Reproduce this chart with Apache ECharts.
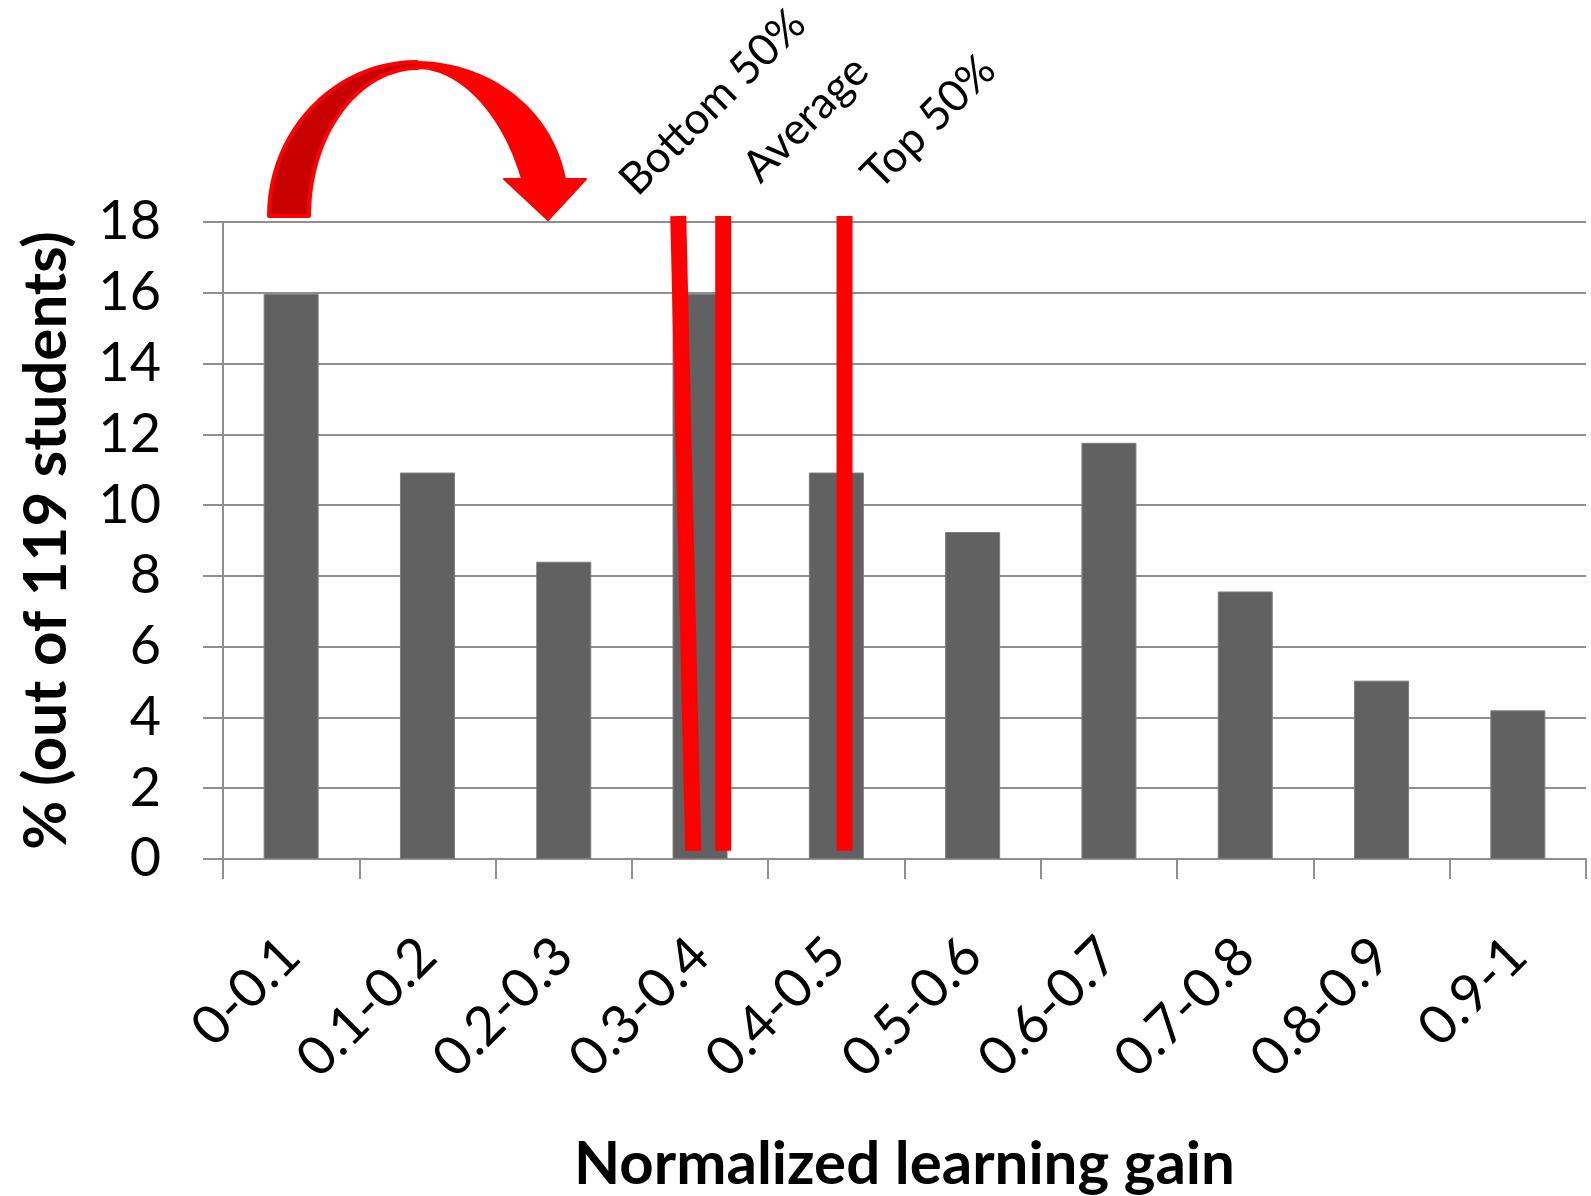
<!DOCTYPE html>
<html>
<head>
<meta charset="utf-8">
<script src="https://cdn.jsdelivr.net/npm/echarts@6/dist/echarts.min.js"></script>
<style>
  html, body { margin: 0; padding: 0; background: #ffffff; }
  #chart { width: 1591px; height: 1196px; }
</style>
</head>
<body>
<div id="chart"></div>
<script>
// Histogram of normalized learning gain
const categories = ['0-0.1', '0.1-0.2', '0.2-0.3', '0.3-0.4', '0.4-0.5',
                    '0.5-0.6', '0.6-0.7', '0.7-0.8', '0.8-0.9', '0.9-1'];
const percentStudents = [15.97, 10.92, 8.40, 15.97, 10.92, 9.24, 11.76, 7.56, 5.04, 4.20];
const yTicks = [0, 2, 4, 6, 8, 10, 12, 14, 16, 18];

// Reference markers on the gain scale (0..1)
const markerNames = ['Bottom 50%', 'Average', 'Top 50%'];
const markerGainTop = [0.334, 0.367, 0.456];
const markerGainBottom = [0.345, 0.367, 0.456];
const markerPercentTop = 18.17;
const markerPercentBottom = 0.23;

const FONT = 'Lato, "Open Sans", sans-serif';
const GRID_COLOR = '#8f8f8f';

// Sample a chain of cubic Bezier segments / straight points into a polygon outline.
// Each step is either [x, y] (line to) or [c1x, c1y, c2x, c2y, x, y] (curve to).
function outline(start, steps) {
  const pts = [start.slice()];
  let cur = start.slice();
  steps.forEach(s => {
    if (s.length === 2) {
      pts.push(s.slice());
      cur = s.slice();
    } else {
      for (let k = 1; k <= 24; k++) {
        const t = k / 24, u = 1 - t;
        const a = u * u * u, b = 3 * u * u * t, c = 3 * u * t * t, d = t * t * t;
        pts.push([
          a * cur[0] + b * s[0] + c * s[2] + d * s[4],
          a * cur[1] + b * s[1] + c * s[3] + d * s[5]
        ]);
      }
      cur = [s[4], s[5]];
    }
  });
  return pts;
}

const risingBand = outline([269, 216], [
  [269, 131, 335, 62, 417, 62],
  [418, 68],
  [358, 68, 309, 134, 309, 216]
]);
const fallingBand = outline([416, 62], [
  [482, 62, 550, 103, 565, 179],
  [586, 179], [548, 220], [504, 179], [522, 179],
  [502, 110, 458, 68, 418, 68]
]);

const chart = echarts.init(document.getElementById('chart'));

const markerSeries = markerNames.map((name, i) => ({
  name: name,
  type: 'line',
  xAxisIndex: 1,
  yAxisIndex: 0,
  data: [[markerGainTop[i], markerPercentTop], [markerGainBottom[i], markerPercentBottom]],
  symbol: 'none',
  clip: false,
  silent: true,
  z: 5,
  lineStyle: { color: '#ff0000', width: 16, cap: 'butt' }
}));

const labelOrigins = [[643, 203], [766, 190], [885, 197]];

chart.setOption({
  animation: false,
  backgroundColor: '#ffffff',
  grid: { left: 223, right: 5, top: 222, bottom: 337, containLabel: false, outerBoundsMode: 'none' },
  xAxis: [{
    type: 'category',
    data: categories,
    boundaryGap: true,
    name: 'Normalized learning gain',
    nameLocation: 'middle',
    nameGap: 276,
    nameTextStyle: { fontFamily: FONT, fontWeight: 'bold', fontSize: 60, color: '#000000' },
    axisLine: { show: true, lineStyle: { color: GRID_COLOR, width: 2 } },
    axisTick: { show: true, length: 20, lineStyle: { color: GRID_COLOR, width: 2 } },
    axisLabel: {
      rotate: 45, margin: 88, interval: 0,
      fontFamily: FONT, fontSize: 54, color: '#000000'
    },
    splitLine: { show: false }
  }, {
    type: 'value',
    min: 0,
    max: 1,
    show: false
  }],
  yAxis: {
    type: 'value',
    min: yTicks[0],
    max: yTicks[yTicks.length - 1],
    interval: yTicks[1] - yTicks[0],
    name: '% (out of 119 students)',
    nameLocation: 'middle',
    nameGap: 146,
    nameRotate: 90,
    nameTextStyle: { fontFamily: FONT, fontWeight: 'bold', fontSize: 60, color: '#000000' },
    axisLine: { show: true, lineStyle: { color: GRID_COLOR, width: 2 } },
    axisTick: { show: true, length: 20, lineStyle: { color: GRID_COLOR, width: 2 } },
    axisLabel: { margin: 62, fontFamily: FONT, fontSize: 54, color: '#000000' },
    splitLine: { show: true, lineStyle: { color: GRID_COLOR, width: 2 } }
  },
  series: [{
    type: 'bar',
    data: percentStudents,
    barWidth: 55,
    itemStyle: { color: '#616161', borderColor: '#7d7d7d', borderWidth: 1 },
    z: 3
  }].concat(markerSeries),
  graphic: [
    // curved "jump" arrow: darker rising band
    {
      type: 'polygon',
      z: 10,
      shape: { points: risingBand },
      style: { fill: '#c80000', stroke: '#ff0000', lineWidth: 4, lineJoin: 'round' }
    },
    // descending band with arrow head
    {
      type: 'polygon',
      z: 10,
      shape: { points: fallingBand },
      style: { fill: '#ff0000', stroke: '#ff0000', lineWidth: 2, lineJoin: 'round' }
    }
  ].concat(markerNames.map((name, i) => ({
    type: 'text', z: 10, x: labelOrigins[i][0], y: labelOrigins[i][1], rotation: Math.PI / 4,
    style: { text: name, fontFamily: FONT, fontSize: 44, fill: '#000000',
             textAlign: 'left', textVerticalAlign: 'bottom' }
  })))
});
</script>
</body>
</html>
